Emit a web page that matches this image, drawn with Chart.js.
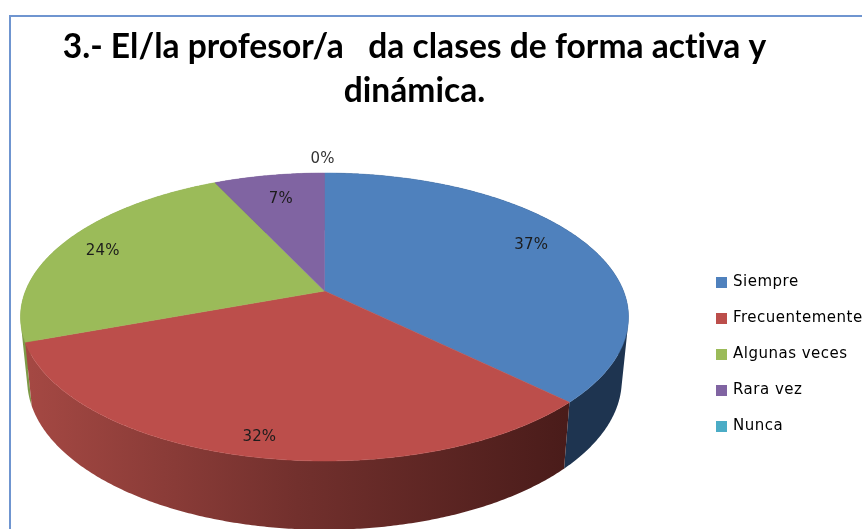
<!DOCTYPE html>
<html><head><meta charset="utf-8">
<style>html,body{margin:0;padding:0;background:#fff;overflow:hidden}canvas{display:block;filter:blur(0.45px)}</style>
<script src="https://cdn.jsdelivr.net/npm/chart.js@4/dist/chart.umd.min.js"></script>
</head><body><canvas id="c" width="862" height="529"></canvas>
<script>
const titleLines = ['3.- El/la profesor/a   da clases de forma activa y', 'dinámica.'];
const categories = ['Siempre', 'Frecuentemente', 'Algunas veces', 'Rara vez', 'Nunca'];
const values = [37.3, 32.1, 23.6, 7, 0];
const colors = ['#4f81bd', '#bc4e4b', '#9bbb59', '#8064a2', '#4bacc6'];
const wallColors = ['#1e3450', null, '#7d9a47', '#5e4a78', '#37808f'];

// perspective of the tilted disc
const CX = 324.5, CY = 291, RX = 299, RY = 139.3, K = -0.1806;
const project = (a, r) => {
  const u = Math.cos(a) * r, v = Math.sin(a) * r, w = 1 + K * v;
  return [CX + RX * u / w, CY + RY * v / w];
};
const drop = p => [CX + (p[0] - CX) * 0.978, 407 + (p[1] - 343) * 1.04];
const labelPlace = [[0.80, -2, -5], [0.892, 1, 2], [0.84, -2, 2], [0.777, 1, 1], [1.148, -2, 1]];

const spaced = (chart, box, amount) => {
  const orig = box.draw;
  box.draw = function (area) {
    chart.ctx.letterSpacing = amount;
    orig.call(this, area);
    chart.ctx.letterSpacing = '0px';
  };
  box._spaced = true;
};

const pie3d = {
  id: 'pie3d',
  afterLayout(chart) {
    const l = chart.legend;
    l.left = 696.5; l.right = 900; l.top = 254; l.bottom = 529;
    if (!l._spaced) spaced(chart, l, '0.5px');
    if (!chart.titleBlock._spaced) spaced(chart, chart.titleBlock, '0.01px');
  },
  beforeDraw(chart) {
    const c = chart.ctx;
    c.save();
    c.strokeStyle = '#6f95d0'; c.lineWidth = 2;
    c.beginPath(); c.moveTo(10, 529); c.lineTo(10, 16); c.lineTo(862, 16); c.stroke();
    c.restore();
  },
  beforeDatasetDraw(chart) {
    const c = chart.ctx, arcs = chart.getDatasetMeta(0).data;
    const STEP = Math.PI / 360;
    const redGrad = c.createLinearGradient(30, 0, 565, 0);
    redGrad.addColorStop(0, '#a44843');
    redGrad.addColorStop(0.5, '#72302d');
    redGrad.addColorStop(1, '#4a1c1a');
    const sweep = arc => {
      const pts = [];
      for (let a = arc.startAngle; a < arc.endAngle; a += STEP) pts.push(project(a, 1));
      pts.push(project(arc.endAngle, 1));
      return pts;
    };
    const live = arcs.map((arc, i) => ({ arc, i })).filter(o => o.arc.endAngle - o.arc.startAngle > 1e-6);
    live.map(o => ({ ...o, pts: sweep(o.arc) }))
      .sort((m, n) => Math.max(...m.pts.map(p => p[1])) - Math.max(...n.pts.map(p => p[1])))
      .forEach(({ i, pts }) => {
        c.fillStyle = wallColors[i] || redGrad;
        c.beginPath();
        for (let k = 0; k + 1 < pts.length; k++) {
          const quad = [pts[k], pts[k + 1], drop(pts[k + 1]), drop(pts[k])];
          let area = 0;
          quad.forEach((p, j) => { const q = quad[(j + 1) % 4]; area += p[0] * q[1] - q[0] * p[1]; });
          if (area < 0) quad.reverse();
          quad.forEach((p, j) => j ? c.lineTo(p[0], p[1]) : c.moveTo(p[0], p[1]));
          c.closePath();
        }
        c.fill();
      });
    live.forEach(({ arc, i }) => {
      c.fillStyle = colors[i]; c.strokeStyle = colors[i]; c.lineWidth = 0.5;
      c.beginPath();
      c.moveTo(CX, CY);
      sweep(arc).forEach(p => c.lineTo(p[0], p[1]));
      c.closePath(); c.fill(); c.stroke();
    });
    const total = values.reduce((s, v) => s + v, 0);
    c.font = '15px "DejaVu Sans"'; c.textAlign = 'center'; c.textBaseline = 'middle';
    c.letterSpacing = '0.2px';
    arcs.forEach((arc, i) => {
      const mid = (arc.startAngle + arc.endAngle) / 2;
      const pl = labelPlace[i], pt = project(mid, pl[0]);
      c.fillStyle = i === 4 ? '#333' : '#1c1c1c';
      c.fillText(Math.round(values[i] / total * 100) + '%', pt[0] + pl[1], pt[1] + pl[2]);
    });
    c.letterSpacing = '0px';
    return false;
  }
};

new Chart(document.getElementById('c'), {
  type: 'pie',
  data: { labels: categories, datasets: [{ data: values, backgroundColor: colors, borderWidth: 0 }] },
  options: {
    responsive: false, animation: false,
    layout: { padding: { right: 33 } },
    plugins: {
      title: {
        display: true, text: titleLines, color: '#000',
        font: { family: 'Lato', weight: 'bold', size: 33.6, lineHeight: 1.31 },
        padding: { top: 25, bottom: 10 }
      },
      legend: {
        display: true, position: 'right', align: 'start',
        labels: {
          boxWidth: 8, boxHeight: 8, padding: 21, color: '#2a2a2a',
          font: { family: 'DejaVu Sans', size: 15 },
          generateLabels: ch => categories.map((t, i) => ({
            text: t, fillStyle: colors[i], strokeStyle: colors[i], lineWidth: 3, index: i, hidden: false
          }))
        }
      },
      tooltip: { enabled: false }
    }
  },
  plugins: [pie3d]
});
</script></body></html>
